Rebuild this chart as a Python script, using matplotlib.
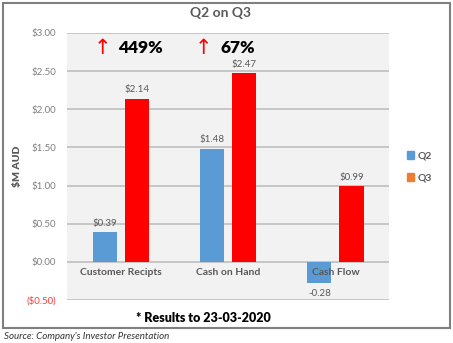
import matplotlib.pyplot as plt
import numpy as np
from matplotlib.patches import Rectangle, Patch

plt.rcParams['font.family'] = ['Lato', 'DejaVu Sans']

categories = ['Customer Recipts', 'Cash on Hand', 'Cash Flow']
q2 = [0.39, 1.48, -0.28]
q3 = [2.14, 2.47, 0.99]
q2_labels = ['$0.39', '$1.48', '-0.28']
q3_labels = ['$2.14', '$2.47', '$0.99']
growth = ['449%', '67%']
yticks = [-0.5, 0.0, 0.5, 1.0, 1.5, 2.0, 2.5, 3.0]
ytick_labels = ['($0.50)', '$0.00', '$0.50', '$1.00', '$1.50', '$2.00', '$2.50', '$3.00']

fig = plt.figure(figsize=(4.53, 3.43), dpi=100)
ax = fig.add_axes([0.148, 0.125, 0.711, 0.779])

x = np.arange(len(categories))
w = 0.225
off = 0.15
ax.bar(x - off, q2, w, color='#5b9bd5', zorder=3)
ax.bar(x + off, q3, w, color='#ff0000', zorder=3)

ax.set_facecolor('#f2f2f2')
ax.set_xlim(-0.5, 2.5)
ax.set_ylim(-0.5, 3.0)
ax.set_yticks(yticks)
ax.set_yticklabels(ytick_labels, fontsize=7, color='#7f7f7f')
ax.get_yticklabels()[0].set_color('#ff3b3b')
ax.tick_params(axis='y', length=0, pad=8)
ax.set_xticks([])
ax.grid(axis='y', color='#bfbfbf', linewidth=1.2, zorder=1)
for s in ax.spines.values():
    s.set_visible(False)

for i, c in enumerate(categories):
    ax.text(x[i], -0.08, c, ha='center', va='top', fontsize=7.5,
            fontweight='bold', color='#595959', zorder=4)

for i in range(len(categories)):
    if q2[i] >= 0:
        ax.text(x[i] - off, q2[i] + 0.06, q2_labels[i], ha='center', va='bottom',
                fontsize=7, color='#595959')
    else:
        ax.text(x[i] - off, q2[i] - 0.07, q2_labels[i], ha='center', va='top',
                fontsize=7, color='#595959')
    ax.text(x[i] + off, q3[i] + 0.06, q3_labels[i], ha='center', va='bottom',
            fontsize=7, color='#595959')

# growth call-outs: red arrow + black bold percentage
arrow_dx = [-0.085, -0.15]
text_dx = [-0.02, -0.075]
for i, g in enumerate(growth):
    ax.text(x[i] + arrow_dx[i], 2.80, '\u2191', ha='right', va='center', fontsize=15,
            color='#ff0000', family=['DejaVu Sans'])
    ax.text(x[i] + text_dx[i], 2.80, g, ha='left', va='center', fontsize=12.5,
            color='black', fontweight='heavy')

ax.set_ylabel('$M AUD', fontsize=7.5, fontweight='heavy', color='#595959', labelpad=3)

handles = [Patch(color='#5b9bd5'), Patch(color='#ed7d31')]
fig.legend(handles, ['Q2', 'Q3'], loc='center left', bbox_to_anchor=(0.877, 0.513),
           frameon=False, handlelength=0.7, handleheight=0.7,
           handletextpad=0.4, labelspacing=1.2, prop={'weight': 'bold', 'size': 7.5},
           labelcolor='#595959')

fig.text(0.486, 0.962, 'Q2 on Q3', ha='center', va='center', fontsize=10,
         fontweight='bold', color='#595959')
fig.text(0.450, 0.073, '* Results to 23-03-2020', ha='center', va='center',
         fontsize=9, fontweight='heavy', color='black')
fig.text(0.008, 0.018, "Source: Company's Investor Presentation", ha='left',
         va='center', fontsize=7, style='italic', color='#333333')

fig.patches.append(Rectangle((0.007, 0.045), 0.986, 0.946, transform=fig.transFigure,
                             fill=False, edgecolor='#7f7f7f', linewidth=1.5))

fig.savefig('out.png', dpi=100)
